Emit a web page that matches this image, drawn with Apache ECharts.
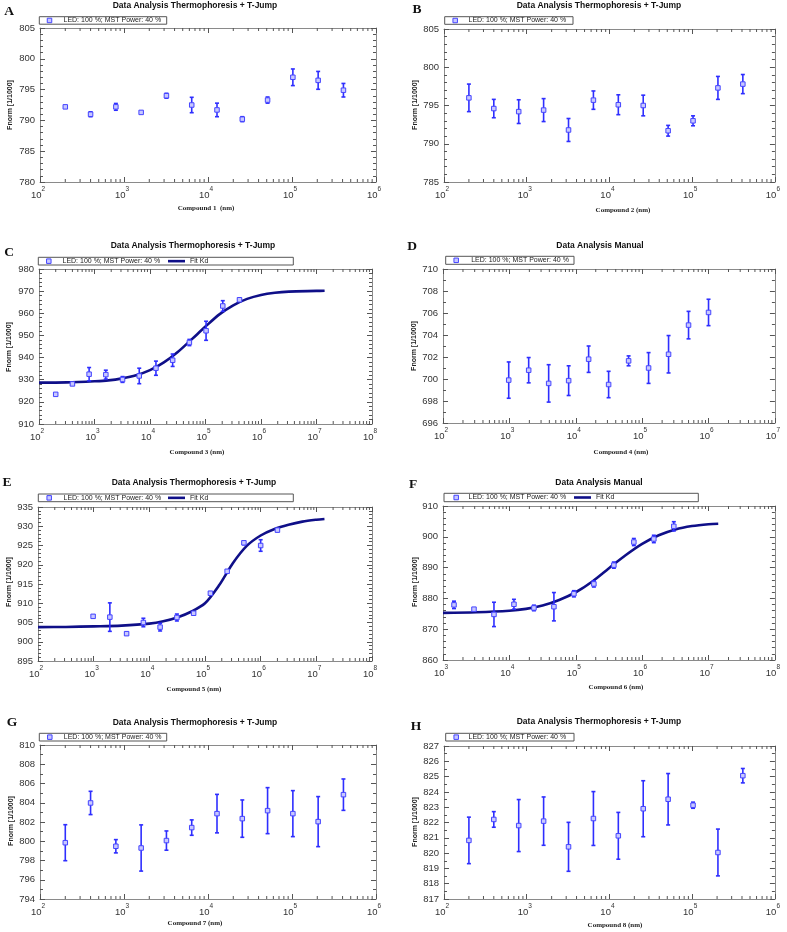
<!DOCTYPE html>
<html><head><meta charset="utf-8">
<script src="https://cdn.jsdelivr.net/npm/echarts@6/dist/echarts.min.js"></script>
<style>html,body{margin:0;padding:0;background:#fff}#c{width:787px;height:932px}</style>
</head><body><div id="c"></div>
<script>
// ---------- DATA ----------
const LED = 'LED: 100 %; MST Power: 40 %';
const FIT = 'Fit Kd';

const concA = [200,400,800,1600,3200,6400,12800,25600,51200,102400,204800,409600];
const fnormA = [792.2,791.0,792.2,791.3,794.0,792.5,791.7,790.2,793.3,797.0,796.5,794.9];
const errA = [0.15,0.4,0.55,0.15,0.4,1.25,1.1,0.4,0.5,1.35,1.45,1.1];
const yTicksA = [780,785,790,795,800,805];
const xDecA = [2,3,4,5,6];

const concB = [200,400,800,1600,3200,6400,12800,25600,51200,102400,204800,409600];
const fnormB = [796.0,794.6,794.2,794.4,791.8,795.7,795.1,795.0,791.7,793.0,797.3,797.8];
const errB = [1.8,1.2,1.55,1.5,1.5,1.2,1.3,1.35,0.7,0.65,1.5,1.25];
const yTicksB = [785,790,795,800,805];
const xDecB = [2,3,4,5,6];

const concC = [200,400,800,1600,3200,6400,12800,25600,51200,102400,204800,409600];
const fnormC = [923.4,928.1,932.5,932.3,930.1,931.7,935.2,938.8,946.8,952.1,963.3,966.1];
const errC = [0.3,0.4,3.0,2.0,1.3,3.5,3.2,2.8,1.4,4.3,2.4,0.5];
const fitConcC = [100,316,1000,1778,3162,5623,10000,17783,31623,56234,100000,177828,316228,562341,1000000,1778279,3162278,10000000,14000000];
const fitC = [928.7,928.8,929.3,929.7,930.6,932.0,934.3,937.8,942.5,948.2,954.0,959.5,963.6,966.5,968.3,969.3,969.8,970.1,970.2];
const yTicksC = [910,920,930,940,950,960,970,980];
const xDecC = [2,3,4,5,6,7,8];

const concD = [977,1953,3906,7813,15625,31250,62500,125000,250000,500000,1000000];
const fnormD = [699.9,700.8,699.6,699.85,701.8,699.5,701.65,701.0,702.25,704.9,706.05];
const errD = [1.65,1.15,1.7,1.35,1.2,1.2,0.45,1.4,1.7,1.25,1.2];
const yTicksD = [696,698,700,702,704,706,708,710];
const xDecD = [2,3,4,5,6,7];

const concE = [977,1953,3906,7813,15625,31250,62500,125000,250000,500000,1000000,2000000];
const fnormE = [906.6,906.4,902.1,905.0,903.8,906.3,907.4,912.6,918.3,925.7,925.0,929.0];
const errE = [0.4,3.7,0.4,1.1,1.0,0.9,0.4,0.4,0.4,0.5,1.5,0.4];
const fitConcE = [100,316,1000,3162,10000,17783,31623,56234,100000,177828,316228,562341,1000000,1778279,3162278,5623413,10000000,14000000];
const fitE = [903.8,903.85,904.0,904.2,904.7,905.3,906.3,907.8,910.0,914.6,920.4,924.9,927.6,929.3,930.4,931.2,931.7,931.9];
const yTicksE = [895,900,905,910,915,920,925,930,935];
const xDecE = [2,3,4,5,6,7,8];

const concF = [1465,2930,5859,11719,23438,46875,93750,187500,375000,750000,1500000,3000000];
const fnormF = [877.9,876.5,874.8,878.1,876.9,877.3,881.5,884.7,890.8,898.3,899.3,903.4];
const errF = [1.2,0.4,3.95,1.6,0.9,4.6,1.0,1.0,1.0,1.15,1.2,1.5];
const fitConcF = [1000,3162,10000,17783,31623,56234,100000,177828,316228,562341,1000000,1778279,3162278,5623413,10000000,14000000];
const fitF = [875.3,875.5,876.0,876.6,877.7,879.5,882.0,885.5,889.8,894.0,897.7,900.5,902.4,903.5,904.1,904.25];
const yTicksF = [860,870,880,890,900,910];
const xDecF = [3,4,5,6,7,8];

const concG = [200,400,800,1600,3200,6400,12800,25600,51200,102400,204800,409600];
const fnormG = [799.85,803.98,799.48,799.3,800.07,801.42,802.87,802.35,803.18,802.87,802.04,804.84];
const errG = [1.87,1.21,0.69,2.4,1.0,0.8,2.0,1.94,2.39,2.39,2.6,1.63];
const yTicksG = [794,796,798,800,802,804,806,808,810];
const xDecG = [2,3,4,5,6];

const concH = [200,400,800,1600,3200,6400,12800,25600,51200,102400,204800,409600];
const fnormH = [820.83,822.2,821.8,822.09,820.41,822.26,821.13,822.9,823.52,823.13,820.04,825.06];
const errH = [1.52,0.51,1.7,1.58,1.6,1.76,1.53,1.83,1.68,0.2,1.53,0.47];
const yTicksH = [817,818,819,820,821,822,823,824,825,826,827];
const xDecH = [2,3,4,5,6];

const TITLE_T = 'Data Analysis Thermophoresis + T-Jump';
const TITLE_M = 'Data Analysis Manual';

// ---------- LAYOUT ----------
const panels = [
 {letter:'A', title:TITLE_T, xName:'Compound 1  (nm)', conc:concA, y:fnormA, err:errA, yTicks:yTicksA, xDec:xDecA, minorY:5,
  grid:[40,28,336,154], titleP:[195,6], letterP:[9,12], yNameP:[10.5,105], xNameP:[206,208], box:[39.3,16.7,127.4,7.5], iconX:49, textX:63},
 {letter:'B', title:TITLE_T, xName:'Compound 2 (nm)', conc:concB, y:fnormB, err:errB, yTicks:yTicksB, xDec:xDecB, minorY:5,
  grid:[444,29,336,153], titleP:[599,6], letterP:[417,10], yNameP:[415,105], xNameP:[623,210], box:[444.7,16.7,128.3,7.6], iconX:454.7, textX:468},
 {letter:'C', title:TITLE_T, xName:'Compound 3 (nm)', conc:concC, y:fnormC, err:errC, yTicks:yTicksC, xDec:xDecC, minorY:5, fitX:fitConcC, fitY:fitC,
  grid:[39,269,333,155], titleP:[193,246], letterP:[9,253], yNameP:[8.7,347], xNameP:[197,452], box:[38.3,257.3,255,7.7], iconX:48.3, textX:62, fitIconX:168},
 {letter:'D', title:TITLE_M, xName:'Compound 4 (nm)', conc:concD, y:fnormD, err:errD, yTicks:yTicksD, xDec:xDecD, minorY:2,
  grid:[443,269,337,154], titleP:[600,246], letterP:[412,247], yNameP:[414,346], xNameP:[621,452], box:[445.7,256.3,128.3,8], iconX:455.7, textX:470.7},
 {letter:'E', title:TITLE_T, xName:'Compound 5 (nm)', conc:concE, y:fnormE, err:errE, yTicks:yTicksE, xDec:xDecE, minorY:5, fitX:fitConcE, fitY:fitE,
  grid:[38,507,334,154], titleP:[194,483], letterP:[7,483], yNameP:[9,582], xNameP:[194,689], box:[38.3,494,255,7.7], iconX:48.7, textX:63, fitIconX:168},
 {letter:'F', title:TITLE_M, xName:'Compound 6 (nm)', conc:concF, y:fnormF, err:errF, yTicks:yTicksF, xDec:xDecF, minorY:5, fitX:fitConcF, fitY:fitF,
  grid:[443,506,337,154], titleP:[599,483], letterP:[413,485], yNameP:[414.7,582], xNameP:[616,687], box:[444,493.3,254.3,8.4], iconX:455.7, textX:468, fitIconX:574},
 {letter:'G', title:TITLE_T, xName:'Compound 7 (nm)', conc:concG, y:fnormG, err:errG, yTicks:yTicksG, xDec:xDecG, minorY:2,
  grid:[40,745,336,154], titleP:[195,723], letterP:[12,723], yNameP:[11,821], xNameP:[195,923], box:[39.3,733.3,127.4,7.7], iconX:49.3, textX:63.3},
 {letter:'H', title:TITLE_T, xName:'Compound 8 (nm)', conc:concH, y:fnormH, err:errH, yTicks:yTicksH, xDec:xDecH, minorY:2,
  grid:[444,746,336,153], titleP:[599,722], letterP:[416,727], yNameP:[415,822], xNameP:[615,925], box:[445.7,733.3,128.3,7.7], iconX:455.7, textX:468}
];

const SANS = '"Liberation Sans", Arial, Helvetica, sans-serif';
const SERIF = '"Liberation Serif", "Times New Roman", serif';
const AXIS_COLOR = '#8a8a8a';
const TICK_COLOR = '#555';
const LABEL_COLOR = '#333';
const FIT_COLOR = '#0f0f88';

function errRender(params, api) {
  const x = api.value(0);
  const lo = api.coord([x, api.value(1)]);
  const hi = api.coord([x, api.value(2)]);
  const c = 2;
  const st = {stroke:'#2e2eff', lineWidth:1.6};
  return {type:'group', children:[
    {type:'line', shape:{x1:lo[0], y1:lo[1], x2:hi[0], y2:hi[1]}, style:st},
    {type:'line', shape:{x1:lo[0]-c, y1:lo[1], x2:lo[0]+c, y2:lo[1]}, style:st},
    {type:'line', shape:{x1:hi[0]-c, y1:hi[1], x2:hi[0]+c, y2:hi[1]}, style:st}
  ]};
}
function minorRender(params, api) {
  const p = api.coord([api.value(0), api.value(1)]);
  const cs = params.coordSys;
  const st = {stroke:TICK_COLOR, lineWidth:1};
  const b = cs.y + cs.height;
  return {type:'group', children:[
    {type:'line', shape:{x1:p[0], y1:b, x2:p[0], y2:b-3}, style:st},
    {type:'line', shape:{x1:p[0], y1:cs.y, x2:p[0], y2:cs.y+3}, style:st}
  ]};
}

const option = {
  animation:false, backgroundColor:'#fff',
  textStyle:{fontFamily:SANS},
  grid:[], xAxis:[], yAxis:[], series:[], legend:[], graphic:[]
};

panels.forEach((p, i) => {
  const [gl, gt, gw, gh] = p.grid;
  option.grid.push({left:gl, top:gt, width:gw, height:gh, containLabel:false, show:false});
  const xMin = Math.pow(10, p.xDec[0]);
  const xMax = Math.pow(10, p.xDec[p.xDec.length-1]);
  const yMin = p.yTicks[0], yMax = p.yTicks[p.yTicks.length-1], yInt = p.yTicks[1]-p.yTicks[0];
  const axisLine = {show:true, onZero:false, lineStyle:{color:AXIS_COLOR, width:1}};
  const tick = {show:true, inside:true, length:5, lineStyle:{color:TICK_COLOR, width:1}};
  const xBase = {gridIndex:i, type:'log', logBase:10, min:xMin, max:xMax, axisLine, axisTick:tick, splitLine:{show:false}};
  option.xAxis.push(Object.assign({}, xBase, {position:'bottom',
    axisLabel:{margin:4, formatter:v => '{b|10}{s|' + Math.round(Math.log10(v)) + '}',
      rich:{b:{fontSize:9.5, color:LABEL_COLOR, fontFamily:SANS, lineHeight:14, verticalAlign:'bottom'},
            s:{fontSize:6.5, color:LABEL_COLOR, fontFamily:SANS, lineHeight:7, verticalAlign:'top', padding:[0,4,0,0]}}}}));
  option.xAxis.push(Object.assign({}, xBase, {position:'top', axisLabel:{show:false}}));
  const yBase = {gridIndex:i, type:'value', min:yMin, max:yMax, interval:yInt, axisLine, axisTick:tick,
    minorTick:{show:true, splitNumber:p.minorY, length:3, lineStyle:{color:TICK_COLOR, width:1}}, splitLine:{show:false}, minorSplitLine:{show:false}};
  option.yAxis.push(Object.assign({}, yBase, {position:'left', axisLabel:{margin:5, fontSize:9.5, color:LABEL_COLOR, fontFamily:SANS}}));
  option.yAxis.push(Object.assign({}, yBase, {position:'right', axisLabel:{show:false}}));
  const xi = 2*i, yi = 2*i;

  // minor log ticks (2..9 x 10^k inside each decade of the axis range)
  const minorData = [];
  for (let k = p.xDec[0]; k < p.xDec[p.xDec.length-1]; k++) {
    for (let m = 2; m <= 9; m++) minorData.push([m*Math.pow(10,k), yMin]);
  }
  option.series.push({type:'custom', xAxisIndex:xi, yAxisIndex:yi, silent:true, data:minorData, renderItem:minorRender, z:1});

  if (p.fitX) {
    option.series.push({type:'line', name:FIT, xAxisIndex:xi, yAxisIndex:yi, data:p.fitX.map((x,j)=>[x, p.fitY[j]]),
      smooth:0.3, symbol:'none', showSymbol:false,
      lineStyle:{color:FIT_COLOR, width:2.6}, itemStyle:{color:FIT_COLOR}, z:2});
  }
  option.series.push({type:'custom', xAxisIndex:xi, yAxisIndex:yi, silent:true,
    data:p.conc.map((x,j)=>[x, p.y[j]-p.err[j], p.y[j]+p.err[j]]), encode:{x:0, y:[1,2]}, renderItem:errRender, z:3});
  option.series.push({type:'scatter', name:LED, xAxisIndex:xi, yAxisIndex:yi, data:p.conc.map((x,j)=>[x, p.y[j]]),
    symbol:'rect', symbolSize:4.5, itemStyle:{color:'#c8c8ff', borderColor:'#4545ff', borderWidth:1, opacity:1}, z:4});

  // legend
  const [bx, by, bw, bh] = p.box;
  const iconW = 4.5;
  option.legend.push({data:[{name:LED, icon:'rect'}], left:p.iconX-iconW/2, top:by+bh/2-4, padding:0, itemWidth:iconW, itemHeight:iconW,
    selectedMode:false, itemStyle:{color:'#c8c8ff', borderColor:'#4545ff', borderWidth:1},
    textStyle:{fontSize:7, color:'#222', fontFamily:SANS, lineHeight:8, padding:[0,0,0,Math.max(0, p.textX-(p.iconX+iconW/2)-5)]}});
  if (p.fitX) {
    option.legend.push({data:[{name:FIT, icon:'rect'}], left:p.fitIconX, top:by+bh/2-4, padding:0, itemWidth:17, itemHeight:2.6,
      selectedMode:false, itemStyle:{color:FIT_COLOR, borderWidth:0}, lineStyle:{width:0},
      textStyle:{fontSize:7, color:'#222', fontFamily:SANS, lineHeight:8}});
  }
  option.graphic.push({type:'rect', shape:{x:bx, y:by, width:bw, height:bh}, style:{fill:'none', stroke:'#555', lineWidth:1}, silent:true, z:10});
  // texts
  option.graphic.push({type:'text', x:p.titleP[0], y:p.titleP[1], silent:true,
    style:{text:p.title, align:'center', verticalAlign:'middle', fontSize:8.5, fontWeight:'bold', fontFamily:SANS, fill:'#111'}});
  option.graphic.push({type:'text', x:p.letterP[0], y:p.letterP[1], silent:true,
    style:{text:p.letter, align:'center', verticalAlign:'middle', fontSize:13.5, fontWeight:'bold', fontFamily:SERIF, fill:'#111'}});
  option.graphic.push({type:'text', x:p.yNameP[0], y:p.yNameP[1], rotation:Math.PI/2, silent:true,
    style:{text:'Fnorm [1/1000]', align:'center', verticalAlign:'middle', fontSize:7, fontWeight:'bold', fontFamily:SANS, fill:'#222'}});
  option.graphic.push({type:'text', x:p.xNameP[0], y:p.xNameP[1], silent:true,
    style:{text:p.xName, align:'center', verticalAlign:'middle', fontSize:7, fontWeight:'bold', fontFamily:SERIF, fill:'#222'}});
});

const chart = echarts.init(document.getElementById('c'), null, {renderer:'canvas'});
chart.setOption(option);
</script>
</body></html>
